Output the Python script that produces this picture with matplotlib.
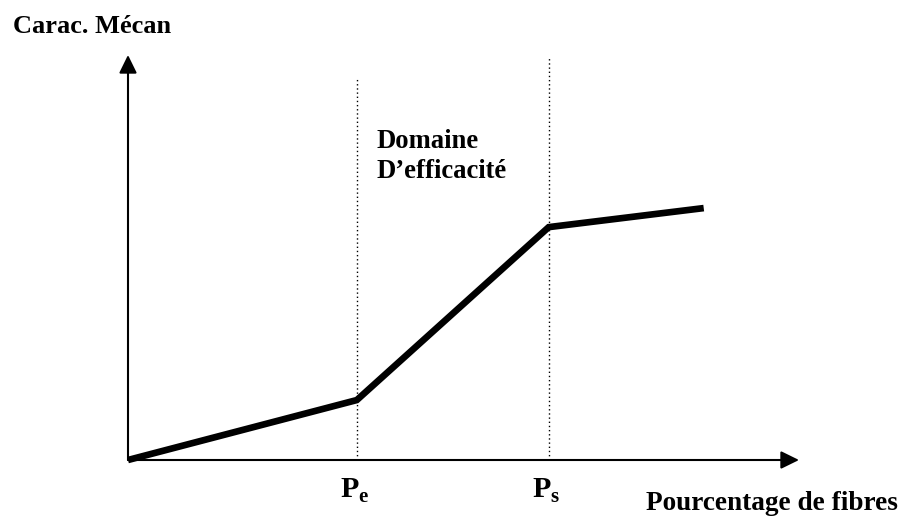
import matplotlib
matplotlib.use("Agg")
import matplotlib.pyplot as plt

# Mechanical property as a function of fibre content (piecewise behaviour)
fibre_content = [0.0, 3.41, 6.27, 8.58]
mech_property = [0.0, 1.48, 5.75, 6.22]

# Threshold contents P_e and P_s with their dotted guides
threshold_sub = ["e", "s"]
threshold_x = [3.41, 6.27]
threshold_top = [9.43, 9.95]

label_y = "Carac. Mécan"
label_x = "Pourcentage de fibres"
zone_lines = ["Domaine", "D\u2019efficacité"]

plt.rcParams["mathtext.fontset"] = "custom"
plt.rcParams["mathtext.rm"] = "Liberation Serif"
plt.rcParams["mathtext.bf"] = "Liberation Serif:bold"

W, H, DPI = 898, 518, 100
fig = plt.figure(figsize=(W / DPI, H / DPI), dpi=DPI)
fig.patch.set_facecolor("white")
ax = fig.add_axes([128 / W, 58 / H, 671 / W, 405 / H])
ax.set_xlim(0, 10)
ax.set_ylim(0, 10)
ax.axis("off")

serif = ["Liberation Serif", "DejaVu Serif"]

# Axes drawn as arrows
arrow = dict(arrowstyle="-|>,head_length=0.55,head_width=0.27",
             mutation_scale=20, lw=1.5, color="black",
             shrinkA=0, shrinkB=0)
ax.annotate("", xy=(10, 0), xytext=(0, 0), arrowprops=arrow,
            annotation_clip=False)
ax.annotate("", xy=(0, 10), xytext=(0, 0), arrowprops=arrow,
            annotation_clip=False)

# Dotted guides at the thresholds
ax.vlines(threshold_x, 0, threshold_top, colors="black",
          linestyles=(0, (1, 2)), lw=1.0, zorder=2)

# Curve
ax.plot(fibre_content, mech_property, color="black", lw=4.8,
        solid_capstyle="butt", solid_joinstyle="miter",
        clip_on=False, zorder=3)

# Threshold labels P_e, P_s
for sub, xv in zip(threshold_sub, threshold_x):
    ax.annotate(r"$\mathbf{P}_{\mathbf{%s}}$" % sub, xy=(xv, 0),
                xytext=(-1.6, -27.5), textcoords="offset points",
                ha="center", va="baseline", fontsize=21.5,
                annotation_clip=False)

# Zone label
zone_x = 3.71
zone_baselines = [7.70, 6.96]
for line, yb in zip(zone_lines, zone_baselines):
    ax.text(zone_x, yb, line, ha="left", va="baseline", fontsize=19.2,
            fontweight="bold", family=serif)

# Axis titles
fig.text(13 / W, 1 - 33 / H, label_y, ha="left", va="baseline",
         fontsize=19, fontweight="bold", family=serif)
fig.text(646 / W, 1 - 510 / H, label_x, ha="left", va="baseline",
         fontsize=19.6, fontweight="bold", family=serif)

fig.savefig("out.png", dpi=DPI, facecolor="white")
